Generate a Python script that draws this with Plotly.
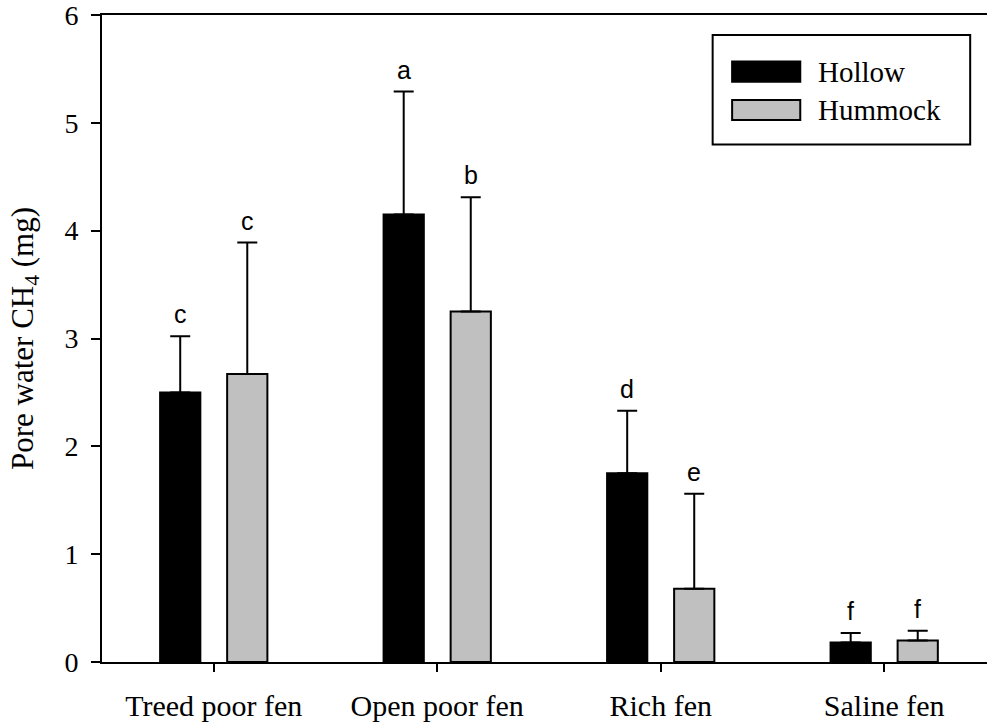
import plotly.graph_objects as go

categories = ["Treed poor fen", "Open poor fen", "Rich fen", "Saline fen"]
series_names = ["Hollow", "Hummock"]
hollow_mean = [2.50, 4.15, 1.75, 0.18]
hollow_err = [0.52, 1.14, 0.58, 0.09]
hummock_mean = [2.67, 3.25, 0.68, 0.20]
hummock_err = [1.22, 1.06, 0.88, 0.09]
hollow_letters = ["c", "a", "d", "f"]
hummock_letters = ["c", "b", "e", "f"]
y_ticks = [0, 1, 2, 3, 4, 5, 6]

colors = ["#000000", "#c0c0c0"]
serif = "Liberation Serif, Times New Roman, serif"
sans = "Liberation Sans, Arial, sans-serif"

xs = list(range(len(categories)))
fig = go.Figure()
for name, mean, err, col in [
    (series_names[0], hollow_mean, hollow_err, colors[0]),
    (series_names[1], hummock_mean, hummock_err, colors[1]),
]:
    fig.add_trace(go.Bar(
        x=xs, y=mean, name=name, showlegend=False,
        marker=dict(color=col, line=dict(color="black", width=2)),
        error_y=dict(type="data", array=err, symmetric=False,
                     arrayminus=[0] * len(err),
                     color="black", thickness=2, width=10),
    ))

slot = 0.3
annotations = []
for letters, mean, err, off in [
    (hollow_letters, hollow_mean, hollow_err, -slot / 2),
    (hummock_letters, hummock_mean, hummock_err, slot / 2),
]:
    for i, (lt, m, e) in enumerate(zip(letters, mean, err)):
        annotations.append(dict(
            x=i + off, y=m + e, text=lt, showarrow=False,
            yanchor="middle", yshift=22,
            font=dict(family=sans, size=25, color="black"),
        ))

# custom legend (wide swatches as in the reference), in paper coordinates
shapes = [dict(type="rect", xref="paper", yref="paper",
               x0=0.690, x1=0.981, y0=0.800, y1=0.969,
               line=dict(color="black", width=2), fillcolor="white", layer="above")]
legend_rows = [(0.928, 0.897, 0.912), (0.8686, 0.8376, 0.853)]
for (top, bot, mid), name, col in zip(legend_rows, series_names, colors):
    shapes.append(dict(type="rect", xref="paper", yref="paper",
                       x0=0.712, x1=0.789, y0=bot, y1=top,
                       line=dict(color="black", width=2), fillcolor=col, layer="above"))
    annotations.append(dict(xref="paper", yref="paper", x=0.807, y=mid,
                            xanchor="left", yanchor="middle", showarrow=False,
                            text=name, font=dict(family=serif, size=29, color="black")))

fig.update_layout(
    width=987, height=725,
    margin=dict(l=102, r=0, t=15, b=63),
    paper_bgcolor="white", plot_bgcolor="white",
    barmode="group", bargap=0.4, bargroupgap=0.4,
    annotations=annotations, shapes=shapes,
    xaxis=dict(
        range=[-0.5, 3.46], tickvals=xs, ticktext=categories,
        showline=True, linecolor="black", linewidth=2, mirror=True,
        ticks="outside", ticklen=8, tickwidth=2, tickcolor="black",
        showgrid=False, zeroline=False, automargin=False,
        tickfont=dict(family=serif, size=30, color="black"),
        ticklabelstandoff=8, ticklabeloverflow="allow",
    ),
    yaxis=dict(
        range=[0, 6], tickvals=y_ticks,
        showline=True, linecolor="black", linewidth=2,
        ticks="outside", ticklen=9, tickwidth=2, tickcolor="black",
        showgrid=False, zeroline=False, automargin=False,
        tickfont=dict(family=serif, size=28, color="black"),
        ticklabelstandoff=7, ticklabeloverflow="allow",
        title=dict(text="Pore water CH<sub>4</sub> (mg)",
                   font=dict(family=serif, size=31, color="black"),
                   standoff=22),
    ),
)

fig.write_html("out.html", config={"displayModeBar": False},
               post_script="document.body.style.margin='0';")
